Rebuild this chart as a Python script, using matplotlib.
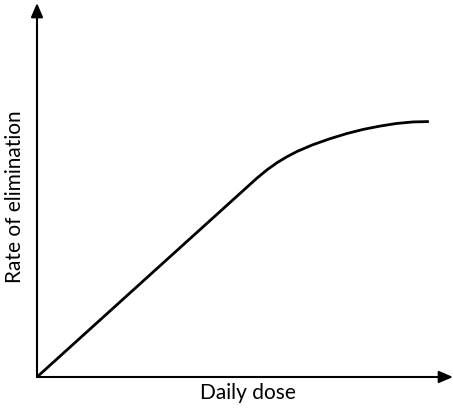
import matplotlib
matplotlib.use('Agg')
import matplotlib.pyplot as plt

# dose vs rate of elimination (arbitrary units, 0-100 on each axis)
dose = [0, 52.9, 55.3, 57.7, 60.1, 62.5, 66.3, 70.4, 74.5, 78.4, 82.5, 86.5, 90.4, 94.2]
rate = [0, 53.2, 55.4, 57.3, 58.9, 60.3, 62.1, 63.7, 65.1, 66.2, 67.1, 67.8, 68.2, 68.3]

x_label = 'Daily dose'
y_label = 'Rate of elimination'

plt.rcParams['font.family'] = ['Lato', 'DejaVu Sans']

fig = plt.figure(figsize=(4.53, 4.12), dpi=100)
ax = fig.add_axes([37 / 453, 35 / 412, 416 / 453, 374 / 412])
ax.set_xlim(0, 100)
ax.set_ylim(0, 100)
for s in ax.spines.values():
    s.set_visible(False)
ax.set_xticks([])
ax.set_yticks([])

# axes with arrow heads
arrow = dict(arrowstyle='-|>,head_length=0.7,head_width=0.3', color='black', lw=1.5,
             shrinkA=0, shrinkB=0, mutation_scale=12)
ax.annotate('', xy=(1, 0), xytext=(0, 0), xycoords='axes fraction', arrowprops=arrow)
ax.annotate('', xy=(0, 1), xytext=(0, 0), xycoords='axes fraction', arrowprops=arrow)

ax.plot(dose, rate, color='black', lw=2, solid_capstyle='butt', solid_joinstyle='round',
        clip_on=False)

fig.text(248 / 453, 1 - 393 / 412, x_label, ha='center', va='center', fontsize=15)
fig.text(15 / 453, 1 - 197 / 412, y_label, ha='center', va='center', rotation=90, fontsize=15)

fig.savefig('out.png', dpi=100)
